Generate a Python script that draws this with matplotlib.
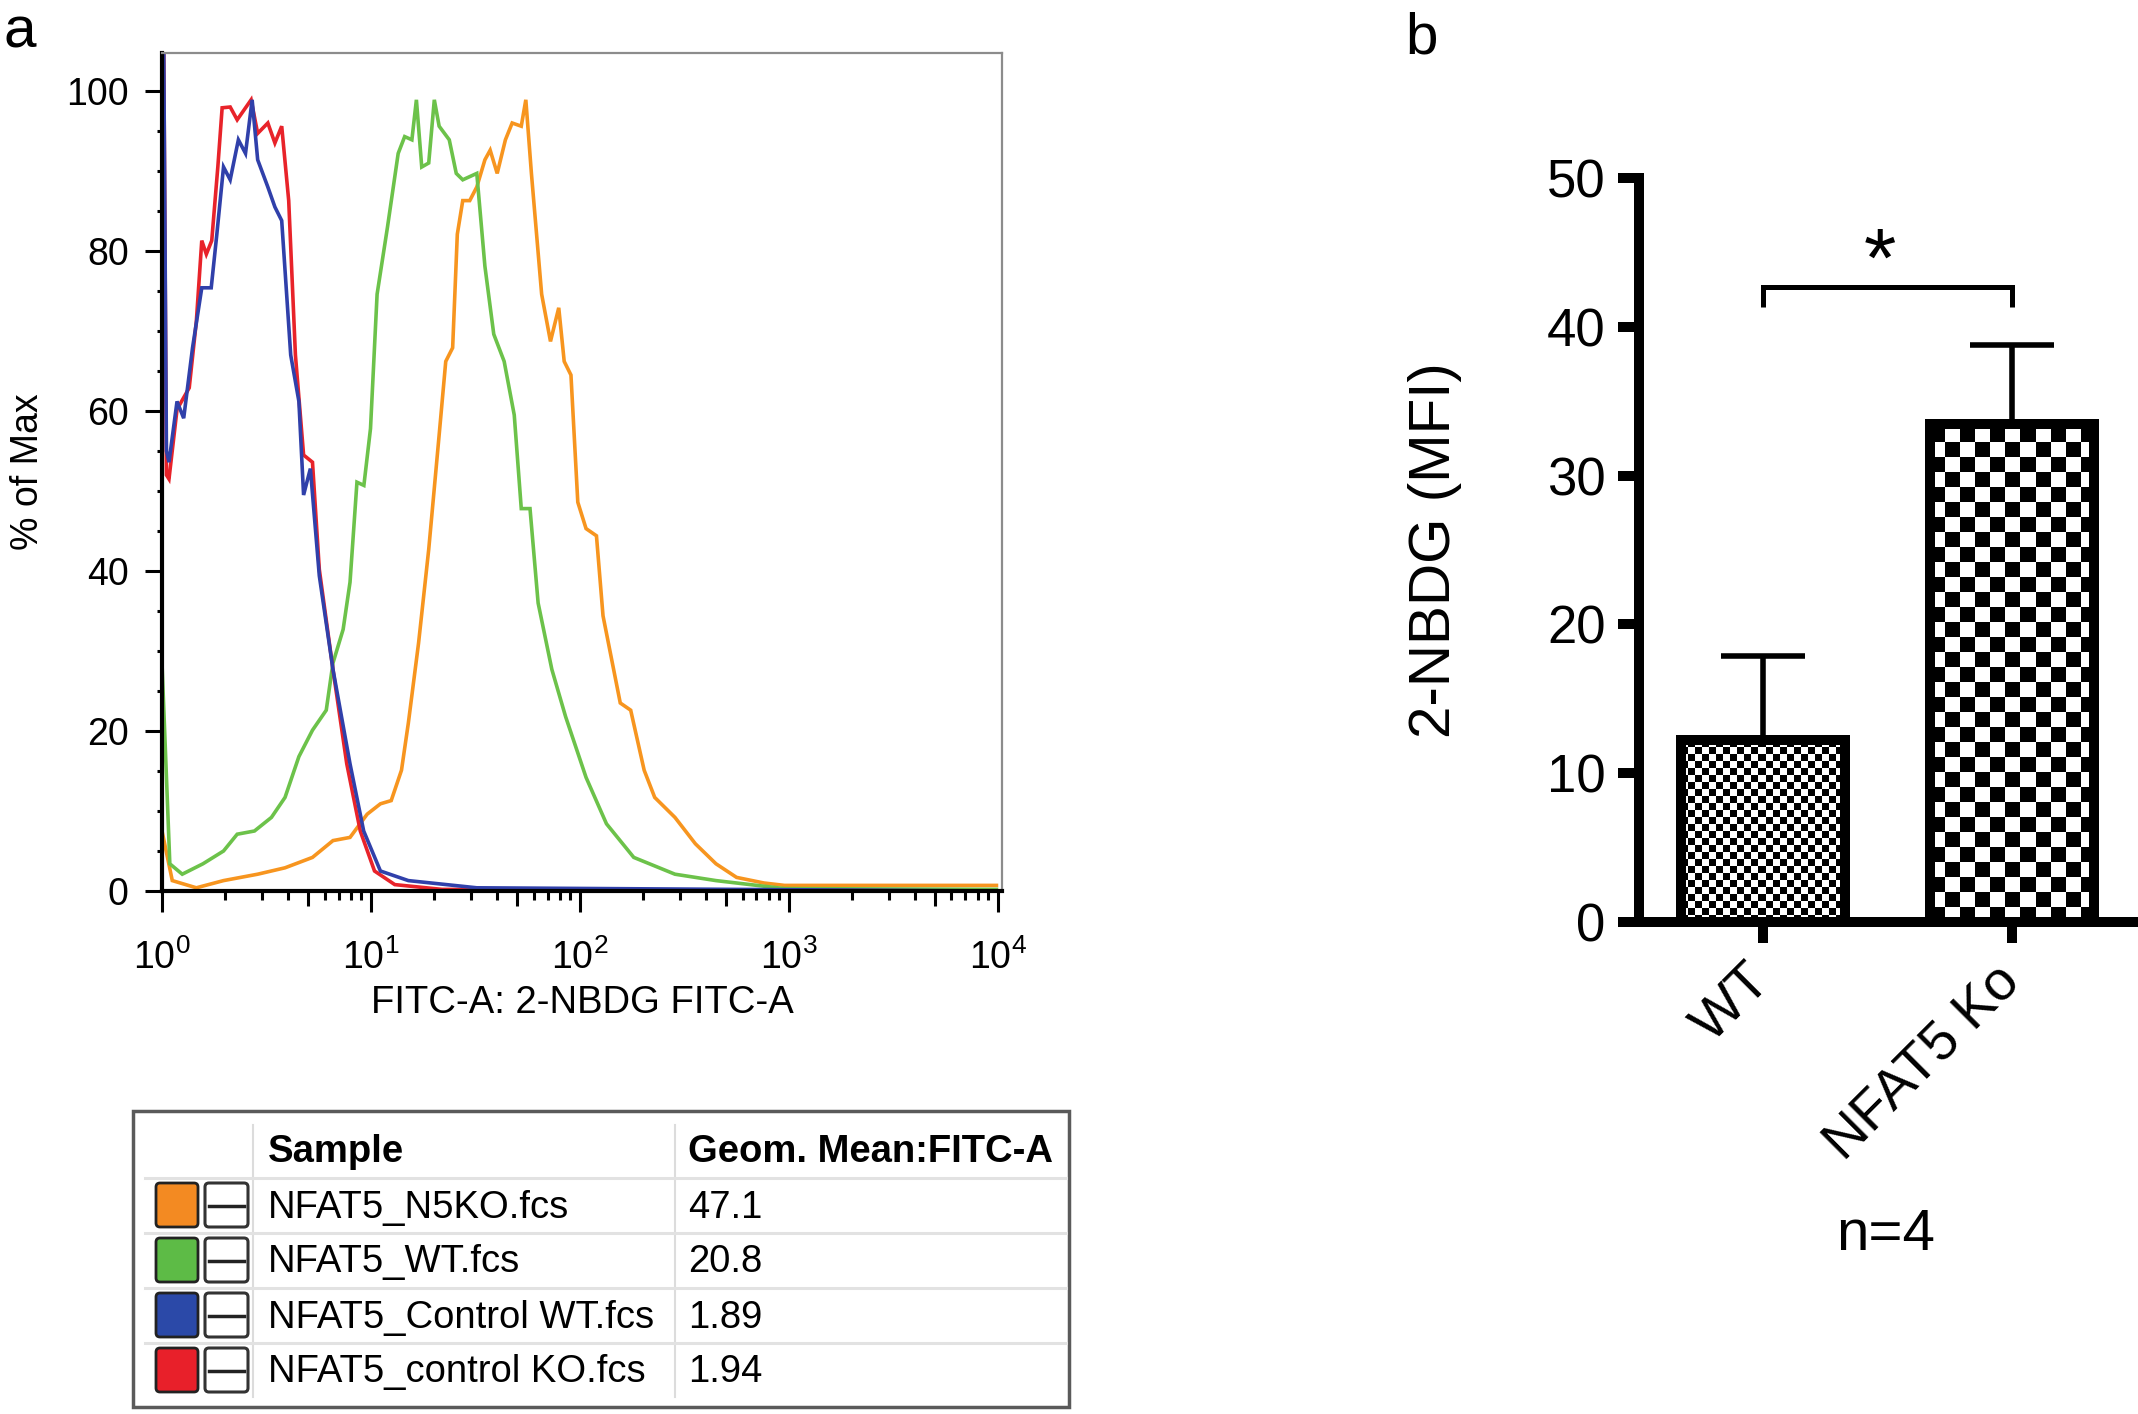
import numpy as np
import matplotlib
matplotlib.use('Agg')
import matplotlib.pyplot as plt
from matplotlib.patches import Rectangle, FancyBboxPatch
from matplotlib.ticker import FixedLocator, NullFormatter, MultipleLocator

plt.rcParams['font.family'] = ['Liberation Sans', 'DejaVu Sans']
plt.rcParams['mathtext.fontset'] = 'custom'
plt.rcParams['mathtext.rm'] = 'Liberation Sans'
plt.rcParams['mathtext.it'] = 'Liberation Sans:italic'
plt.rcParams['mathtext.bf'] = 'Liberation Sans:bold'

# ---- panel a: histogram traces (FITC intensity, % of max)
n5ko_fitc = [1.00, 1.12, 1.46, 1.97, 2.87, 3.88, 5.25, 6.58, 7.94, 9.59, 11.1, 12.5,
             14.0, 15.1, 16.9, 18.9, 21.2, 22.8, 24.6, 25.9, 27.5, 29.7, 32.1, 35.1,
             37.2, 40.2, 44.0, 47.4, 52.4, 55.1, 58.6, 65.6, 72.3, 79.2, 84.1, 90.6,
             97.7, 107, 120, 129, 156, 175, 203, 228, 285, 357, 448, 562, 760, 953, 9850]
n5ko_pct = [7.5, 1.3, 0.4, 1.3, 2.1, 2.9, 4.2, 6.3, 6.7, 9.6, 10.9, 11.3,
            15.1, 21.0, 31.0, 42.7, 57.0, 66.2, 67.9, 82.1, 86.3, 86.3, 88.0, 91.4,
            92.6, 89.7, 93.9, 96.0, 95.6, 98.9, 89.7, 74.6, 68.7, 72.9, 66.2, 64.5,
            48.6, 45.3, 44.4, 34.4, 23.5, 22.6, 15.1, 11.7, 9.2, 5.9, 3.4, 1.7, 1.0, 0.7, 0.7]

wt_fitc = [1.00, 1.09, 1.25, 1.57, 1.97, 2.29, 2.77, 3.34, 3.88, 4.52, 5.25, 6.11,
           6.58, 7.36, 7.94, 8.57, 9.25, 9.95, 10.7, 12.0, 13.5, 14.5, 15.7, 16.5,
           17.5, 18.9, 20.1, 21.2, 23.7, 25.6, 27.5, 32.1, 35.1, 38.7, 43.4, 48.5,
           52.4, 57.7, 63.1, 73.4, 85.4, 107, 134, 181, 285, 448, 953, 9850]
wt_pct = [28.5, 3.4, 2.1, 3.4, 5.0, 7.1, 7.5, 9.2, 11.7, 16.8, 20.1, 22.6,
          28.5, 32.7, 38.6, 51.1, 50.7, 57.8, 74.6, 83.0, 92.2, 94.3, 93.9, 98.9,
          90.5, 91.0, 98.9, 95.6, 93.9, 89.7, 88.9, 89.7, 78.1, 69.6, 66.2, 59.5,
          47.8, 47.8, 36.0, 27.7, 21.8, 14.2, 8.4, 4.2, 2.1, 1.3, 0.3, 0.2]

ctrl_wt_fitc = [1.02, 1.05, 1.08, 1.18, 1.27, 1.40, 1.55, 1.72, 1.83, 1.97, 2.12, 2.32,
                2.51, 2.70, 2.87, 3.21, 3.47, 3.74, 4.13, 4.52, 4.76, 5.13, 5.66, 6.58,
                7.94, 9.23, 11.1, 15.1, 32.1, 10000]
ctrl_wt_pct = [104.5, 55.0, 53.6, 61.2, 59.1, 67.9, 75.4, 75.4, 82.1, 90.5, 88.9, 93.9,
               92.2, 98.9, 91.4, 88.0, 85.5, 83.8, 67.0, 61.2, 49.5, 52.8, 39.4, 27.7,
               15.9, 7.5, 2.5, 1.3, 0.4, 0.0]

ctrl_ko_fitc = [1.02, 1.05, 1.08, 1.18, 1.35, 1.46, 1.55, 1.63, 1.73, 1.85, 1.94, 2.12,
                2.29, 2.67, 2.87, 3.21, 3.47, 3.74, 4.04, 4.35, 4.76, 5.25, 5.66, 6.58,
                7.66, 8.89, 10.4, 13.0, 21.9, 10000]
ctrl_ko_pct = [104.5, 52.0, 51.5, 60.2, 62.9, 71.2, 81.3, 79.6, 81.3, 90.5, 97.9, 98.0,
               96.4, 98.9, 94.7, 96.0, 93.5, 95.6, 86.3, 67.0, 54.5, 53.6, 40.2, 27.7,
               15.9, 7.5, 2.5, 0.8, 0.2, 0.0]

# ---- panel a: sample table
sample_names = ['NFAT5_N5KO.fcs', 'NFAT5_WT.fcs', 'NFAT5_Control WT.fcs', 'NFAT5_control KO.fcs']
geom_means = ['47.1', '20.8', '1.89', '1.94']
sample_colors = ['#F38A22', '#5DBB46', '#2B49A8', '#E8202A']
line_colors = ['#F7951F', '#6CC24A', '#3040AA', '#E8232A']

# ---- panel b: bar chart
groups = ['WT', 'NFAT5 Ko']
mfi_mean = [12.2, 33.5]
mfi_sem = [5.7, 5.3]
checker_cell = [7, 15]      # checker square size in pixels
sig_label = '*'
bracket_y = 42.7
n_label = 'n=4'

W, H = 2138, 1414
fig = plt.figure(figsize=(W / 100, H / 100), dpi=100)


def px_axes(left, top, right, bottom):
    """Add an axes given its box in pixel coordinates (origin top left)."""
    return fig.add_axes([left / W, 1 - bottom / H, (right - left) / W, (bottom - top) / H])


def fill_checker(ax, bar, cell_px):
    """Fill a bar with a black/white checker board clipped to the bar."""
    x0, y0 = bar.get_x(), bar.get_y()
    w, h = bar.get_width(), bar.get_height()
    (px0, py0), (px1, py1) = ax.transData.transform([(x0, y0), (x0 + w, y0 + h)])
    nx = int(np.ceil(abs(px1 - px0) / cell_px))
    ny = int(np.ceil(abs(py1 - py0) / cell_px))
    board = np.indices((ny, nx)).sum(axis=0) % 2
    dx = cell_px * w / abs(px1 - px0)
    dy = cell_px * h / abs(py1 - py0)
    im = ax.imshow(board, cmap='gray', vmin=0, vmax=1, origin='lower',
                   interpolation='nearest', aspect='auto', zorder=2,
                   extent=(x0, x0 + nx * dx, y0, y0 + ny * dy))
    im.set_clip_path(bar)


# ---------------- table under the histogram ----------------
tab = fig.add_axes([0, 0, 1, 1])
tab.set_xlim(0, W)
tab.set_ylim(H, 0)
tab.axis('off')

box_l, box_t, box_r, box_b = 133, 1111, 1069, 1407
col_x = [253, 675]
head_y = 1178
row_h = 55
tab.add_patch(Rectangle((box_l, box_t), box_r - box_l, box_b - box_t,
                        facecolor='white', edgecolor='#5a5a5a', lw=2.5))
for cx in col_x:
    tab.plot([cx, cx], [box_t + 14, box_b - 10], color='#dcdcdc', lw=1.5)
for i in range(len(sample_names)):
    tab.plot([box_l + 12, box_r - 3], [head_y + i * row_h] * 2, color='#e2e2e2', lw=2.2)

tab.text(268, 1152, 'Sample', fontsize=27.5, fontweight='bold', va='center')
tab.text(688, 1152, 'Geom. Mean:FITC-A', fontsize=27.5, fontweight='bold', va='center')
for i, (name, val, col) in enumerate(zip(sample_names, geom_means, sample_colors)):
    top = head_y + i * row_h
    mid = top + row_h / 2
    tab.add_patch(FancyBboxPatch((156, top + 5), 42, 44, boxstyle='round,pad=0,rounding_size=4',
                                 facecolor=col, edgecolor='#222222', lw=2))
    tab.add_patch(FancyBboxPatch((205, top + 5), 43, 44, boxstyle='round,pad=0,rounding_size=4',
                                 facecolor='white', edgecolor='#333333', lw=2.2))
    tab.plot([209, 244], [mid, mid], color='#222222', lw=2.5)
    tab.text(268, mid + 2, name, fontsize=27.5, va='center')
    tab.text(688, mid + 2, val, fontsize=27.5, va='center')

# ---------------- panel a: histogram ----------------
ax = px_axes(162, 53, 1002, 891)
traces = [(n5ko_fitc, n5ko_pct, line_colors[0]),
          (wt_fitc, wt_pct, line_colors[1]),
          (ctrl_ko_fitc, ctrl_ko_pct, line_colors[3]),
          (ctrl_wt_fitc, ctrl_wt_pct, line_colors[2])]
for xs, ys, col in traces:
    ax.plot(xs, ys, color=col, lw=2.6, solid_joinstyle='miter')

ax.set_xscale('log')
ax.set_xlim(1, 10 ** 4.02)
ax.set_ylim(0, 104.75)
ax.set_yticks([0, 20, 40, 60, 80, 100])
ax.yaxis.set_minor_locator(MultipleLocator(5))
ax.set_xticks([1, 10, 100, 1000, 10000])
minor_locs = [m * 10 ** k for k in range(4) for m in range(2, 10)]
ax.xaxis.set_minor_locator(FixedLocator(minor_locs))
ax.xaxis.set_minor_formatter(NullFormatter())

ax.tick_params(axis='both', which='both', direction='out', color='black', width=2.2,
               labelsize=27)
ax.tick_params(axis='y', which='major', length=12, pad=12)
ax.tick_params(axis='y', which='minor', length=3.5)
ax.tick_params(axis='x', which='major', length=15, pad=20)
ax.tick_params(axis='x', which='minor', length=6.5)

for side in ['left', 'bottom']:
    ax.spines[side].set_linewidth(3)
    ax.spines[side].set_color('black')
for side in ['top', 'right']:
    ax.spines[side].set_linewidth(1.6)
    ax.spines[side].set_color('#8c8c8c')

ax.set_ylabel('% of Max', fontsize=27)
ax.yaxis.set_label_coords(-0.138, 0.5)
ax.set_xlabel('FITC-A: 2-NBDG FITC-A', fontsize=27.5)
ax.xaxis.set_label_coords(0.5, -0.112)

# longer minor tick at the half decade
for loc, tick in zip(minor_locs, ax.xaxis.get_minor_ticks(len(minor_locs))):
    if round(loc / 10 ** np.floor(np.log10(loc))) == 5:
        tick.tick1line.set_markersize(11)

fig.text(3 / W, 1 - 47 / H, 'a', fontsize=42, va='baseline', ha='left')

# ---------------- panel b: bars ----------------
axb = px_axes(1639, 178, 2136, 922)
xpos = np.arange(len(groups))
axb.set_xlim(-0.5, 1.5)
axb.set_ylim(0, 50)

bars = axb.bar(xpos, mfi_mean, width=0.66, facecolor='none', edgecolor='black',
               lw=7.2, zorder=3)
for bar, cell in zip(bars, checker_cell):
    fill_checker(axb, bar, cell)
axb.set_xlim(-0.5, 1.5)
axb.set_ylim(0, 50)

axb.errorbar(xpos, mfi_mean, yerr=[np.zeros(len(groups)), mfi_sem], fmt='none',
             ecolor='black', elinewidth=4, capsize=30, capthick=4, zorder=2)

# significance bracket
drop = 1.35
axb.plot([xpos[0], xpos[0], xpos[1], xpos[1]],
         [bracket_y - drop, bracket_y, bracket_y, bracket_y - drop],
         color='black', lw=3.6, solid_joinstyle='miter', solid_capstyle='butt')
axb.text(xpos.mean() - 0.03, bracket_y, sig_label, fontsize=60, ha='center', va='baseline')

axb.set_yticks([0, 10, 20, 30, 40, 50])
axb.set_xticks(xpos)
axb.set_xticklabels(groups)
axb.tick_params(axis='y', length=15, width=7.2, labelsize=38, pad=9)
axb.tick_params(axis='x', length=15, width=7.2, labelsize=40, pad=22)
for lbl in axb.get_xticklabels():
    lbl.set_rotation(45)
    lbl.set_ha('right')
    lbl.set_va('center')
    lbl.set_rotation_mode('anchor')

for side in ['top', 'right']:
    axb.spines[side].set_visible(False)
for side in ['left', 'bottom']:
    axb.spines[side].set_linewidth(7.2)

axb.set_ylabel('2-NBDG (MFI)', fontsize=42)
axb.yaxis.set_label_coords(-0.356, 0.5)

fig.text(1405 / W, 1 - 54 / H, 'b', fontsize=42, va='baseline', ha='left')
fig.text(1886 / W, 1 - 1235 / H, n_label, fontsize=42, ha='center', va='center')

fig.savefig('out.png', dpi=100)
